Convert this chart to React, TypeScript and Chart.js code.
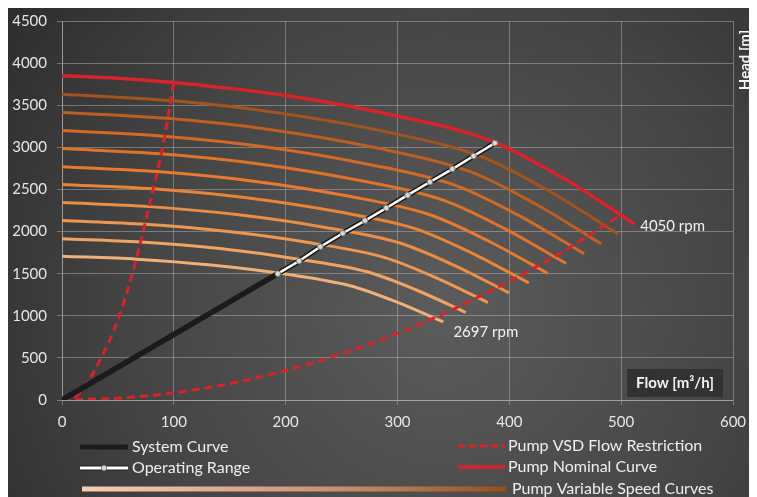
import { useEffect, useRef } from "react";
import { Chart, registerables } from "chart.js";

Chart.register(...registerables);

const FONT = "Lato, 'Open Sans', sans-serif";

// Axis ticks
const flowTicks = [0, 100, 200, 300, 400, 500, 600];
const headTicks = [0, 500, 1000, 1500, 2000, 2500, 3000, 3500, 4000, 4500];

// Pump nominal curve (4050 rpm)
const nominalFlow = [0, 50, 100, 150, 200, 250, 300, 350, 387, 450, 512];
const nominalHead = [3850, 3820, 3770, 3700, 3615, 3505, 3370, 3220, 3060, 2620, 2090];

// Pump variable speed curves (top = fastest, bottom = 2697 rpm)
const speedFlows = [
  [0, 97.1, 194.2, 291.3, 375.8, 437.0, 497.2],
  [0, 94.2, 188.4, 282.5, 364.5, 423.8, 482.2],
  [0, 91.2, 182.3, 273.5, 352.8, 410.3, 466.8],
  [0, 88.1, 176.1, 264.2, 340.8, 396.2, 450.8],
  [0, 84.8, 169.6, 254.5, 328.3, 381.7, 434.3],
  [0, 81.5, 163.1, 244.6, 315.6, 366.9, 417.5],
  [0, 78.0, 156.1, 234.1, 302.0, 351.2, 399.6],
  [0, 74.4, 148.8, 223.1, 287.9, 334.7, 380.8],
  [0, 70.5, 141.1, 211.6, 272.9, 317.4, 361.1],
  [0, 66.6, 133.2, 199.8, 257.7, 299.6, 340.9],
];
const speedHeads = [
  [3630, 3555, 3408, 3180, 2885, 2470, 1971],
  [3415, 3344, 3207, 2990, 2714, 2324, 1854],
  [3200, 3133, 3005, 2800, 2543, 2178, 1737],
  [2985, 2923, 2803, 2612, 2373, 2031, 1620],
  [2770, 2712, 2601, 2424, 2202, 1885, 1504],
  [2560, 2507, 2404, 2240, 2035, 1742, 1390],
  [2345, 2296, 2202, 2052, 1864, 1596, 1273],
  [2130, 2086, 2000, 1864, 1693, 1450, 1156],
  [1915, 1875, 1798, 1672, 1522, 1303, 1040],
  [1707, 1672, 1603, 1495, 1357, 1162, 927],
];
const speedColors = [
  "#a2541f", "#bd5f23", "#d26a26", "#de7329", "#e77a2e",
  "#eb8336", "#ed8c43", "#ef9751", "#f0a363", "#f2b079",
];

// System curve
const systemFlow = [0, 193, 212, 231, 251, 271, 290, 309, 329, 349, 368, 387];
const systemHead = [0, 1500, 1650, 1820, 1980, 2130, 2280, 2432, 2588, 2742, 2897, 3050];

// Operating range
const operatingFlow = [193, 212, 231, 251, 271, 290, 309, 329, 349, 368, 387];
const operatingHead = [1500, 1650, 1820, 1980, 2130, 2280, 2432, 2588, 2742, 2897, 3050];

// VSD flow restriction (minimum and maximum)
const vsdMinFlow = [0, 10, 20, 35, 50, 65, 80, 90, 100];
const vsdMinHead = [0, 20, 150, 500, 950, 1600, 2420, 3000, 3770];
const vsdMaxFlow = [0, 50, 100, 150, 200, 250, 300, 350, 400, 450, 500];
const vsdMaxHead = [0, 22, 85, 195, 350, 550, 790, 1080, 1410, 1780, 2200];

const zip = (xs: number[], ys: number[]) => xs.map((x, i) => ({ x, y: ys[i] }));

const RED = "#d8232a";

const bgPlugin = {
  id: "bg",
  beforeDraw(chart: any) {
    const { ctx, width, height } = chart;
    ctx.save();
    const g = ctx.createRadialGradient(width * 0.58, height * 0.62, 10, width * 0.58, height * 0.62, width * 0.75);
    g.addColorStop(0, "#5b5b5b");
    g.addColorStop(0.55, "#444444");
    g.addColorStop(1, "#2a2a2a");
    ctx.fillStyle = g;
    ctx.fillRect(0, 0, width, height);
    ctx.restore();
  },
};

const annotPlugin = {
  id: "annot",
  afterDraw(chart: any) {
    const { ctx } = chart;
    const xs = chart.scales.x;
    const ys = chart.scales.y;
    ctx.save();
    // rpm labels
    ctx.fillStyle = "#f2f2f2";
    ctx.font = `15px ${FONT}`;
    ctx.textAlign = "left";
    ctx.textBaseline = "middle";
    ctx.fillText("4050 rpm", xs.getPixelForValue(517), ys.getPixelForValue(2066));
    ctx.fillText("2697 rpm", xs.getPixelForValue(350), ys.getPixelForValue(807));

    // Flow title box
    ctx.fillStyle = "rgba(48,48,48,0.9)";
    ctx.fillRect(619, 361, 96, 28);
    ctx.fillStyle = "#f4f4f4";
    ctx.font = `bold 15px ${FONT}`;
    ctx.textAlign = "center";
    ctx.fillText("Flow [m³/h]", 667, 375);

    // Head title (vertical)
    ctx.save();
    ctx.translate(737, 52);
    ctx.rotate(-Math.PI / 2);
    ctx.fillText("Head [m]", 0, 0);
    ctx.restore();

    // Legend
    ctx.font = `16px ${FONT}`;
    ctx.textAlign = "left";
    ctx.fillStyle = "#eeeeee";
    ctx.lineCap = "butt";
    // System curve
    ctx.strokeStyle = "#1c1c1c";
    ctx.lineWidth = 5;
    ctx.beginPath(); ctx.moveTo(72, 439); ctx.lineTo(120, 439); ctx.stroke();
    ctx.fillText("System Curve", 124, 439);
    // Operating range
    ctx.strokeStyle = "#1c1c1c";
    ctx.lineWidth = 5;
    ctx.beginPath(); ctx.moveTo(72, 460); ctx.lineTo(120, 460); ctx.stroke();
    ctx.strokeStyle = "#ffffff";
    ctx.lineWidth = 3;
    ctx.beginPath(); ctx.moveTo(72, 460); ctx.lineTo(120, 460); ctx.stroke();
    ctx.fillStyle = "#d8d8d8";
    ctx.strokeStyle = "#777";
    ctx.lineWidth = 1;
    ctx.beginPath(); ctx.arc(96, 460, 2.8, 0, Math.PI * 2); ctx.fill(); ctx.stroke();
    ctx.fillStyle = "#eeeeee";
    ctx.fillText("Operating Range", 124, 460);
    // VSD restriction
    ctx.strokeStyle = RED;
    ctx.lineWidth = 3;
    ctx.setLineDash([7, 4]);
    ctx.beginPath(); ctx.moveTo(450, 438); ctx.lineTo(497, 438); ctx.stroke();
    ctx.setLineDash([]);
    ctx.fillText("Pump VSD Flow Restriction", 500, 438);
    // Nominal
    ctx.lineWidth = 3.5;
    ctx.beginPath(); ctx.moveTo(450, 459); ctx.lineTo(497, 459); ctx.stroke();
    ctx.fillText("Pump Nominal Curve", 500, 459);
    // Variable speed gradient
    const lg = ctx.createLinearGradient(74, 0, 498, 0);
    lg.addColorStop(0, "#f6d0b0");
    lg.addColorStop(0.6, "#c99070");
    lg.addColorStop(1, "#93501f");
    ctx.strokeStyle = lg;
    ctx.lineWidth = 5;
    ctx.beginPath(); ctx.moveTo(74, 481); ctx.lineTo(498, 481); ctx.stroke();
    ctx.fillText("Pump Variable Speed Curves", 504, 481);
    ctx.restore();
  },
};

export default function App() {
  const ref = useRef<HTMLCanvasElement>(null);
  useEffect(() => {
    const speedSets = speedFlows.map((f, i) => ({
      label: `Speed ${i + 1}`,
      data: zip(f, speedHeads[i]),
      borderColor: speedColors[i],
      borderWidth: 3,
      pointRadius: 0,
      cubicInterpolationMode: "monotone" as const,
      order: 10 + i,
    }));
    const chart = new Chart(ref.current!, {
      type: "line",
      data: {
        datasets: [
          {
            label: "Operating Range",
            data: zip(operatingFlow, operatingHead),
            borderColor: "#ffffff",
            borderWidth: 2.5,
            pointRadius: 2.8,
            pointBackgroundColor: "#d8d8d8",
            pointBorderColor: "#777777",
            pointBorderWidth: 1,
            order: 0,
          },
          {
            label: "System Curve",
            data: zip(systemFlow, systemHead),
            borderColor: "#1b1b1b",
            borderWidth: 5.5,
            pointRadius: 0,
            tension: 0,
            order: 1,
          },
          {
            label: "Pump VSD Flow Restriction",
            data: zip(vsdMinFlow, vsdMinHead),
            borderColor: RED,
            borderWidth: 3,
            borderDash: [8, 5],
            pointRadius: 0,
            cubicInterpolationMode: "monotone" as const,
            order: 2,
          },
          {
            label: "Pump VSD Flow Restriction 2",
            data: zip(vsdMaxFlow, vsdMaxHead),
            borderColor: RED,
            borderWidth: 3,
            borderDash: [8, 5],
            pointRadius: 0,
            cubicInterpolationMode: "monotone" as const,
            order: 3,
          },
          {
            label: "Pump Nominal Curve",
            data: zip(nominalFlow, nominalHead),
            borderColor: RED,
            borderWidth: 3.5,
            pointRadius: 0,
            cubicInterpolationMode: "monotone" as const,
            order: 4,
          },
          ...speedSets,
        ],
      },
      options: {
        animation: false,
        responsive: true,
        maintainAspectRatio: false,
        layout: { padding: { top: 13, right: 24, bottom: 67, left: 0 } },
        plugins: { legend: { display: false }, tooltip: { enabled: false } },
        scales: {
          x: {
            type: "linear",
            min: 0,
            max: 600,
            afterBuildTicks: (s: any) => { s.ticks = flowTicks.map((v) => ({ value: v })); },
            afterFit: (s: any) => { s.height = 30; s.paddingLeft = 0; s.paddingRight = 0; },
            ticks: { color: "#e6e6e6", font: { family: FONT, size: 15 }, padding: 8, callback: (v: any) => String(v) },
            grid: { color: "rgba(190,190,190,0.45)", lineWidth: 1, tickLength: 5 },
            border: { color: "rgba(190,190,190,0.5)" },
          },
          y: {
            type: "linear",
            min: 0,
            max: 4500,
            afterBuildTicks: (s: any) => { s.ticks = headTicks.map((v) => ({ value: v })); },
            afterFit: (s: any) => { s.width = 54; s.paddingTop = 0; s.paddingBottom = 0; },
            ticks: { color: "#e6e6e6", font: { family: FONT, size: 15 }, padding: 10, callback: (v: any) => String(v) },
            grid: { color: "rgba(190,190,190,0.45)", lineWidth: 1, tickLength: 5 },
            border: { color: "rgba(190,190,190,0.5)" },
          },
        },
      },
      plugins: [bgPlugin, annotPlugin],
    });
    return () => chart.destroy();
  }, []);
  return (
    <div style={{ width: 749, height: 489, position: "relative" }}>
      <canvas ref={ref} />
    </div>
  );
}
